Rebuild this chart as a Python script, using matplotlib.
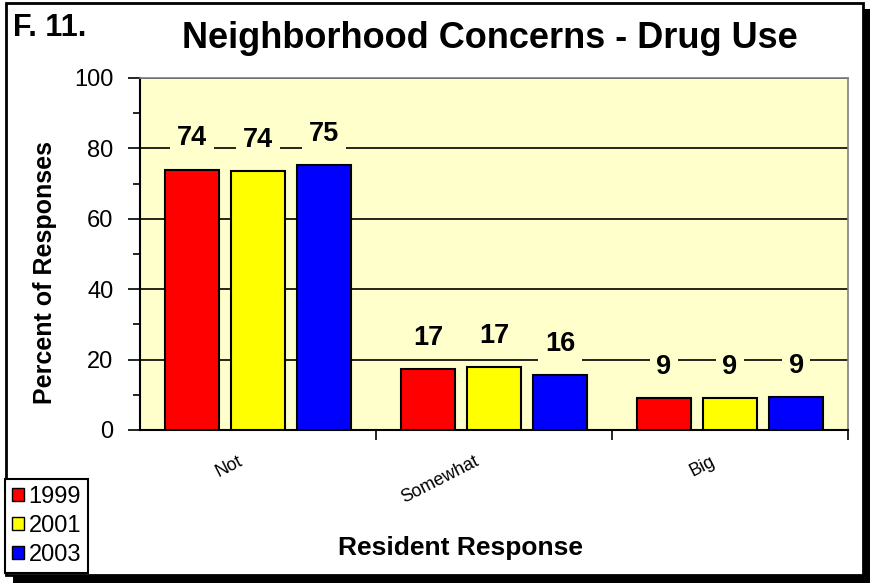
import matplotlib
matplotlib.use("Agg")
import matplotlib.pyplot as plt
from matplotlib.patches import Rectangle, Patch
from matplotlib.transforms import ScaledTranslation
import numpy as np

categories = ["Not", "Somewhat", "Big"]
years = ["1999", "2001", "2003"]
v1999 = [74.0, 17.2, 9.0]
v2001 = [73.6, 17.8, 9.0]
v2003 = [75.3, 15.6, 9.5]
labels1999 = ["74", "17", "9"]
labels2001 = ["74", "17", "9"]
labels2003 = ["75", "16", "9"]
colors = ["#FF0000", "#FFFF00", "#0000FF"]

plt.rcParams['font.family'] = ['Liberation Sans', 'DejaVu Sans']

W, H = 873, 583
fig = plt.figure(figsize=(W/100, H/100), dpi=100)
fig.patch.set_facecolor("white")

# figure frame with shadow
fig.patches.append(Rectangle((13/W, 0/H), 857/W, 574/H, transform=fig.transFigure,
                             facecolor="black", edgecolor="none", zorder=0))
fig.patches.append(Rectangle((6/W, 8/H), 857/W, 572/H, transform=fig.transFigure,
                             facecolor="white", edgecolor="black", lw=2, zorder=0.5))

ax = fig.add_axes([140/W, (H-430)/H, 708/W, 352/H])
ax.set_zorder(2)
ax.set_facecolor("#FFFFCC")

x = np.arange(len(categories))
off = 0.28
bw = 0.229
series = [v1999, v2001, v2003]
labs = [labels1999, labels2001, labels2003]
for i, (vals, lb, c) in enumerate(zip(series, labs, colors)):
    xs = x + (i - 1) * off
    ax.bar(xs, vals, width=bw, color=c, edgecolor="black", linewidth=1.5, zorder=3)
    for xx, v, t in zip(xs, vals, lb):
        ax.annotate(t, (xx, v), xytext=(0, 13), textcoords="offset points",
                    ha="center", va="bottom", fontsize=19.5, fontweight="bold",
                    zorder=4,
                    bbox=dict(boxstyle="square,pad=0.25", facecolor="#FFFFCC", edgecolor="none"))

ax.set_xlim(-0.5, 2.5)
ax.set_ylim(0, 100)
ax.set_yticks(np.arange(0, 101, 20))
ax.set_yticks(np.arange(0, 101, 10), minor=True)
ax.yaxis.grid(True, which="major", color="black", linewidth=1.2, zorder=1)
ax.set_axisbelow(True)
ax.tick_params(axis="y", which="major", direction="out", length=9, width=1.2,
               labelsize=17, pad=10)
ax.tick_params(axis="y", which="minor", direction="out", length=5, width=1.2)

ax.set_xticks([0.5, 1.5, 2.5])
ax.set_xticklabels([])
ax.set_xticks(x, minor=True)
ax.set_xticklabels(categories, minor=True, rotation=27, ha="right", va="center",
                   rotation_mode="anchor", fontsize=13)
ax.tick_params(axis="x", which="major", direction="out", length=7, width=1.2)
ax.tick_params(axis="x", which="minor", length=0, pad=22)
shift = ScaledTranslation(-16/100, 0, fig.dpi_scale_trans)
for lab in ax.get_xticklabels(minor=True):
    lab.set_transform(lab.get_transform() + shift)

for s in ["top", "right"]:
    ax.spines[s].set_color("#808080")
    ax.spines[s].set_linewidth(1.2)
for s in ["left", "bottom"]:
    ax.spines[s].set_color("black")
    ax.spines[s].set_linewidth(1.5)

fig.text(45/W, 1 - 272/H, "Percent of Responses", ha="center", va="center",
         rotation=90, fontsize=18, fontweight="bold")
fig.text(460/W, 1 - 548/H, "Resident Response", ha="center", va="center",
         fontsize=19, fontweight="bold")

fig.text(490/W, 1 - 38/H, "Neighborhood Concerns - Drug Use", ha="center", va="center",
         fontsize=26, fontweight="bold")
fig.text(13/W, 1 - 28/H, "F. 11.", ha="left", va="center", fontsize=22, fontweight="bold")

handles = [Patch(facecolor=c, edgecolor="black", linewidth=1) for c in colors]
leg = fig.legend(handles, years, loc="lower left", bbox_to_anchor=(5/W, (H-573)/H),
                 frameon=True, fancybox=False, edgecolor="black", fontsize=17,
                 handlelength=0.5, handleheight=0.5, handletextpad=0.2,
                 borderpad=0.3, labelspacing=0.3, borderaxespad=0)
leg.get_frame().set_linewidth(1.5)
leg.get_frame().set_facecolor("white")
leg.get_frame().set_alpha(1)

fig.savefig("out.png", dpi=100)
